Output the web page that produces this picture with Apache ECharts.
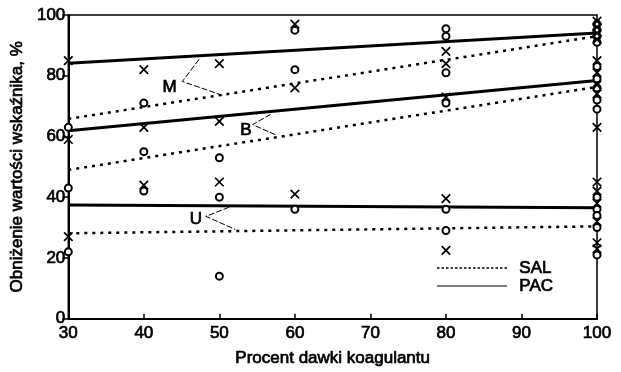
<!DOCTYPE html>
<html>
<head>
<meta charset="utf-8">
<script src="https://cdn.jsdelivr.net/npm/echarts@6/dist/echarts.min.js"></script>
<style>
  html, body { margin: 0; padding: 0; background: #fff; }
  #chart { width: 621px; height: 372px; }
</style>
</head>
<body>
<div id="chart"></div>
<script>
// Measured points: circles = SAL, crosses = PAC
const salPoints = [
  [30, 63], [30, 43], [30, 22],
  [40, 71], [40, 55], [40, 42],
  [50, 53], [50, 40], [50, 14],
  [60, 95], [60, 82], [60, 36],
  [80, 95.5], [80, 93], [80, 81], [80, 71], [80, 36], [80, 29],
  [100, 97], [100, 95], [100, 93], [100, 91], [100, 83], [100, 79], [100, 76],
  [100, 72], [100, 69], [100, 40], [100, 36], [100, 34], [100, 30], [100, 21]
];
const pacPoints = [
  [30, 85], [30, 59], [30, 27],
  [40, 82], [40, 63], [40, 44],
  [50, 84], [50, 65], [50, 45],
  [60, 97], [60, 76], [60, 41],
  [80, 88], [80, 84], [80, 73], [80, 39.5], [80, 22.5],
  [100, 98], [100, 96], [100, 94], [100, 92], [100, 85], [100, 81], [100, 77],
  [100, 74], [100, 63], [100, 45], [100, 42], [100, 38], [100, 32], [100, 25], [100, 23]
];

// Fitted trend lines (start and end of each)
const salM = [[30, 65.8], [100, 93.0]];
const salB = [[30, 49.0], [100, 76.3]];
const salU = [[30, 28.1], [100, 30.4]];
const pacM = [[30, 84.1], [100, 94.1]];
const pacB = [[30, 61.9], [100, 78.4]];
const pacU = [[30, 37.4], [100, 36.5]];

// Group labels and their leader lines (first target, vertex, second target)
const groupLabels = [['M', 43.4, 76.3], ['B', 53.5, 61.9], ['U', 46.9, 32.6]];
const leaderM = [[47.3, 85.4], [45.1, 78.1], [50.6, 73.4]];
const leaderB = [[56.8, 67.3], [54.4, 63.9], [57.4, 60.6]];
const leaderU = [[51.3, 36.7], [48.2, 33.7], [52.1, 29.4]];

const xTicks = [30, 40, 50, 60, 70, 80, 90, 100];
const yTicks = [0, 20, 40, 60, 80, 100];

const FONT = '"Liberation Sans", Arial, sans-serif';
const crossPath = 'path://M0,0L10,10M10,0L0,10';
// slight stroke around glyphs to give the heavier print look
const inkText = { fontFamily: FONT, fontSize: 17, color: '#000', textBorderColor: '#000', textBorderWidth: 0.7 };

function trend(data, dashed) {
  return {
    type: 'line', data: data, symbol: 'none', silent: true, z: 3,
    lineStyle: dashed
      ? { color: '#000', width: 2.5, type: [3, 5], cap: 'butt' }
      : { color: '#000', width: 3 }
  };
}
function leader(data) {
  return {
    type: 'line', data: data, symbol: 'none', silent: true, z: 2,
    lineStyle: { color: '#000', width: 1, type: [6, 2] }
  };
}

const chart = echarts.init(document.getElementById('chart'), null, { renderer: 'canvas' });
chart.setOption({
  animation: false,
  backgroundColor: '#fff',
  grid: { left: 65, right: 24, top: 15, bottom: 48, show: true, borderColor: '#000', borderWidth: 1.5 },
  xAxis: {
    type: 'value', min: xTicks[0], max: xTicks[xTicks.length - 1], interval: 10,
    name: 'Procent dawki koagulantu', nameLocation: 'middle', nameGap: 31,
    nameTextStyle: inkText,
    axisLine: { lineStyle: { color: '#000', width: 2 } },
    axisTick: { inside: true, length: 5, lineStyle: { color: '#000', width: 1.5 } },
    axisLabel: Object.assign({ margin: 6 }, inkText),
    splitLine: { show: false }
  },
  yAxis: {
    type: 'value', min: yTicks[0], max: yTicks[yTicks.length - 1], interval: 20,
    name: 'Obniżenie wartości wskaźnika, %', nameLocation: 'middle', nameGap: 41,
    nameTextStyle: inkText,
    axisLine: { lineStyle: { color: '#000', width: 2 } },
    axisTick: { inside: false, length: 6, lineStyle: { color: '#000', width: 1.5 } },
    axisLabel: Object.assign({ margin: 3 }, inkText),
    splitLine: { show: false }
  },
  series: [
    trend(salM, true), trend(salB, true), trend(salU, true),
    trend(pacM, false), trend(pacB, false), trend(pacU, false),
    leader(leaderM), leader(leaderB), leader(leaderU),
    {
      name: 'SAL', type: 'scatter', data: salPoints, symbol: 'emptyCircle', symbolSize: 7, z: 4,
      itemStyle: { color: '#000', borderColor: '#000', borderWidth: 1.6, opacity: 1 }
    },
    {
      name: 'PAC', type: 'scatter', data: pacPoints, symbol: crossPath, symbolSize: 8.5, z: 4,
      itemStyle: { color: 'transparent', borderColor: '#000', borderWidth: 1.7, opacity: 1 }
    },
    {
      type: 'scatter', symbolSize: 0, silent: true, z: 5,
      itemStyle: { opacity: 1 },
      data: groupLabels.map(g => ({ name: g[0], value: [g[1], g[2]] })),
      label: Object.assign({ show: true, position: 'inside', formatter: p => p.name }, inkText)
    }
  ],
  graphic: [
    { type: 'line', shape: { x1: 437, y1: 268, x2: 507, y2: 268 },
      style: { stroke: '#000', lineWidth: 1.5, lineDash: [2.5, 2] } },
    { type: 'text', left: 519, top: 259,
      style: { text: 'SAL', font: '17px ' + FONT, fill: '#000', stroke: '#000', lineWidth: 0.7 } },
    { type: 'line', shape: { x1: 437, y1: 286, x2: 507, y2: 286 },
      style: { stroke: '#000', lineWidth: 1 } },
    { type: 'text', left: 519, top: 277,
      style: { text: 'PAC', font: '17px ' + FONT, fill: '#000', stroke: '#000', lineWidth: 0.7 } }
  ]
});
</script>
</body>
</html>
